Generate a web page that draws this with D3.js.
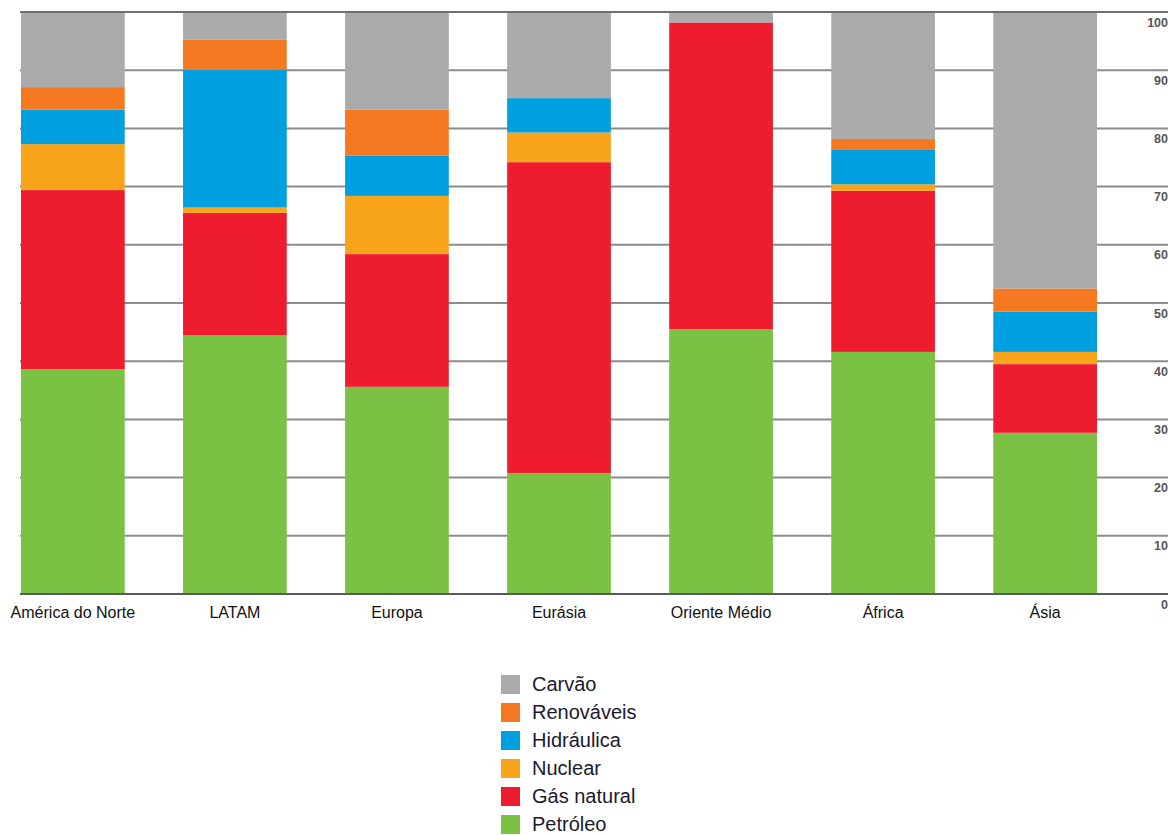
<!DOCTYPE html>
<html>
<head>
<meta charset="utf-8">
<script src="https://cdn.jsdelivr.net/npm/d3@7"></script>
<style>
  html, body { margin: 0; padding: 0; background: #fff; }
  svg { display: block; }
  text { font-family: "Liberation Sans", Arial, sans-serif; }
</style>
</head>
<body>
<svg id="chart" width="1173" height="835"></svg>
<script>
const categories = ["América do Norte", "LATAM", "Europa", "Eurásia", "Oriente Médio", "África", "Ásia"];
const seriesNames = ["Petróleo", "Gás natural", "Nuclear", "Hidráulica", "Renováveis", "Carvão"];
const petroleo   = [38.6, 44.5, 35.6, 20.8, 45.5, 41.6, 27.7];
const gasNatural = [30.8, 21.0, 22.8, 53.4, 52.7, 27.7, 11.8];
const nuclear    = [ 7.9,  0.9, 10.0,  5.1,  0.0,  1.1,  2.1];
const hidraulica = [ 5.9, 23.7,  6.9,  5.9,  0.0,  5.9,  6.9];
const renovaveis = [ 3.9,  5.2,  7.9,  0.0,  0.0,  1.9,  4.0];
const carvao     = [12.9,  4.7, 16.8, 14.8,  1.8, 21.8, 47.5];
const tickValues = [0, 10, 20, 30, 40, 50, 60, 70, 80, 90, 100];
const colors = ["#7bc143", "#ed1c2e", "#f8a51b", "#009fdf", "#f47920", "#ababab"];
const legendOrder = ["Carvão", "Renováveis", "Hidráulica", "Nuclear", "Gás natural", "Petróleo"];

const seriesValues = [petroleo, gasNatural, nuclear, hidraulica, renovaveis, carvao];
const table = categories.map((c, i) => {
  const row = { category: c };
  seriesNames.forEach((s, j) => row[s] = seriesValues[j][i]);
  return row;
});

const svg = d3.select("#chart");
const x = d3.scaleBand().domain(categories).range([21, 1097]).paddingInner(0.36).paddingOuter(0);
const y = d3.scaleLinear().domain([0, 100]).range([594, 12]);
const color = d3.scaleOrdinal().domain(seriesNames).range(colors);

// gridlines
svg.append("g").selectAll("line").data(tickValues.filter(d => d > 0 && d < 100)).join("line")
  .attr("x1", 20).attr("x2", 1168)
  .attr("y1", d => y(d)).attr("y2", d => y(d))
  .attr("stroke", "#8c8c8c").attr("stroke-width", 2);

// bars
const stack = d3.stack().keys(seriesNames)(table);
svg.append("g").selectAll("g").data(stack).join("g")
  .attr("fill", d => color(d.key))
  .selectAll("rect").data(d => d).join("rect")
  .attr("x", d => x(d.data.category))
  .attr("width", x.bandwidth())
  .attr("y", d => y(d[1]))
  .attr("height", d => Math.max(0, y(d[0]) - y(d[1])));

// top and bottom lines
svg.append("line").attr("x1", 20).attr("x2", 1168).attr("y1", y(100)).attr("y2", y(100))
  .attr("stroke", "#6f6f6f").attr("stroke-width", 2);
svg.append("line").attr("x1", 20).attr("x2", 1168).attr("y1", y(0)).attr("y2", y(0))
  .attr("stroke", "#5a5a5a").attr("stroke-width", 2);

// right axis labels
const yAxis = d3.axisRight(y).tickValues(tickValues).tickSize(0).tickPadding(0);
const ag = svg.append("g").attr("transform", "translate(1168,0)").call(yAxis);
ag.select(".domain").remove();
ag.selectAll("text")
  .attr("text-anchor", "end").attr("x", 0).attr("dy", "14")
  .style("font-size", "12.5px").style("fill", "#555").style("font-weight", "bold");

// x axis labels
const xAxis = d3.axisBottom(x).tickSize(0).tickPadding(0);
const xg = svg.append("g").attr("transform", "translate(0,594)").call(xAxis);
xg.select(".domain").remove();
xg.selectAll("text")
  .attr("dy", "24")
  .style("font-size", "16px").style("fill", "#111");

// legend
const lg = svg.append("g").attr("transform", "translate(501,675)");
const items = lg.selectAll("g").data(legendOrder).join("g")
  .attr("transform", (d, i) => `translate(0,${i * 28})`);
items.append("rect").attr("width", 19).attr("height", 19).attr("fill", d => color(d));
items.append("text").attr("x", 31).attr("y", 16).text(d => d)
  .style("font-size", "20px").style("fill", "#1a1a2e");
</script>
</body>
</html>
